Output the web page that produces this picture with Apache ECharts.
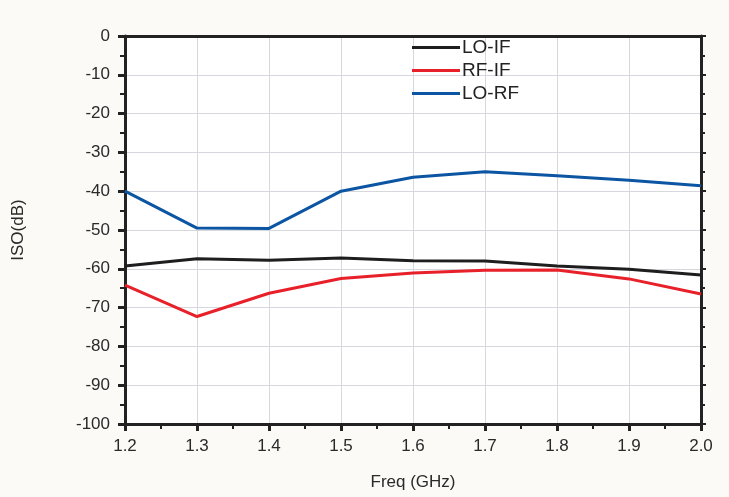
<!DOCTYPE html>
<html>
<head>
<meta charset="utf-8">
<script src="https://cdn.jsdelivr.net/npm/echarts@6/dist/echarts.min.js"></script>
<style>
  html, body { margin: 0; padding: 0; background: #fcfaf7; }
  #panel { width: 729px; height: 497px; }
</style>
</head>
<body>
<div id="panel"></div>
<script>
  // data
  const freq = [1.2, 1.3, 1.4, 1.5, 1.6, 1.7, 1.8, 1.9, 2.0];
  const loIf = [-59.3, -57.4, -57.8, -57.2, -57.9, -58.0, -59.3, -60.1, -61.6];
  const rfIf = [-64.2, -72.3, -66.3, -62.5, -61.1, -60.4, -60.3, -62.6, -66.5];
  const loRf = [-40.0, -49.5, -49.6, -40.0, -36.4, -35.0, -36.0, -37.2, -38.6];

  const pairs = (ys) => freq.map((x, i) => [x, ys[i]]);

  let panel = echarts.init(document.getElementById("panel"));
  const labelFont = { color: "#2a2a2a", fontSize: 17, fontFamily: "Liberation Sans" };
  let option = {
    backgroundColor: "#fcfaf7",
    animation: false,
    grid: {
      left: 125,
      right: 28,
      top: 36,
      bottom: 73,
      show: true,
      backgroundColor: "#fff",
      borderWidth: 0
    },
    legend: {
      orient: "vertical",
      left: 407,
      top: 33,
      itemGap: 4,
      itemWidth: 48,
      itemHeight: 3,
      icon: "rect",
      textStyle: { color: "#222", fontSize: 19, fontFamily: "Liberation Sans", padding: [0, 0, 0, -3] },
      data: ["LO-IF", "RF-IF", "LO-RF"]
    },
    xAxis: [{
      type: "value",
      min: 1.2,
      max: 2.0,
      interval: 0.1,
      name: "Freq (GHz)",
      nameLocation: "middle",
      nameGap: 50,
      nameTextStyle: labelFont,
      axisLine: { onZero: false, lineStyle: { color: "#222", width: 3 } },
      axisTick: { show: true, length: 7, lineStyle: { color: "#222", width: 3 } },
      minorTick: { show: true, splitNumber: 2, length: 5, lineStyle: { color: "#222", width: 2 } },
      axisLabel: Object.assign({ margin: 14, formatter: (v) => v.toFixed(1) }, labelFont),
      splitLine: { show: true, lineStyle: { color: "#d6d8de", width: 1 } }
    }, {
      type: "value",
      position: "top",
      min: 1.2,
      max: 2.0,
      interval: 0.1,
      axisLine: { show: true, lineStyle: { color: "#222", width: 3 } },
      axisTick: { show: false },
      axisLabel: { show: false },
      splitLine: { show: false }
    }],
    yAxis: [{
      type: "value",
      min: -100,
      max: 0,
      interval: 10,
      name: "ISO(dB)",
      nameLocation: "middle",
      nameGap: 98,
      nameTextStyle: labelFont,
      axisLine: { onZero: false, lineStyle: { color: "#222", width: 3 } },
      axisTick: { show: true, length: 7, lineStyle: { color: "#222", width: 3 } },
      minorTick: { show: true, splitNumber: 2, length: 5, lineStyle: { color: "#222", width: 2 } },
      axisLabel: Object.assign({ margin: 15 }, labelFont),
      splitLine: { show: true, lineStyle: { color: "#d6d8de", width: 1 } }
    }, {
      type: "value",
      position: "right",
      min: -100,
      max: 0,
      interval: 10,
      axisLine: { show: true, lineStyle: { color: "#222", width: 3 } },
      axisTick: { show: true, length: 5, lineStyle: { color: "#222", width: 2 } },
      minorTick: { show: true, splitNumber: 2, length: 4, lineStyle: { color: "#222", width: 2 } },
      axisLabel: { show: false },
      splitLine: { show: false }
    }],
    series: [{
        name: "LO-IF",
        type: "line",
        showSymbol: false,
        lineStyle: { width: 3, color: "#1e1e1e" },
        itemStyle: { color: "#1e1e1e" },
        data: pairs(loIf)
      },
      {
        name: "RF-IF",
        type: "line",
        showSymbol: false,
        lineStyle: { width: 3, color: "#e8202a" },
        itemStyle: { color: "#e8202a" },
        data: pairs(rfIf)
      },
      {
        name: "LO-RF",
        type: "line",
        showSymbol: false,
        lineStyle: { width: 3, color: "#0b55a3" },
        itemStyle: { color: "#0b55a3" },
        data: pairs(loRf)
      }
    ]
  };
  panel.setOption(option, true);
</script>
</body>
</html>
